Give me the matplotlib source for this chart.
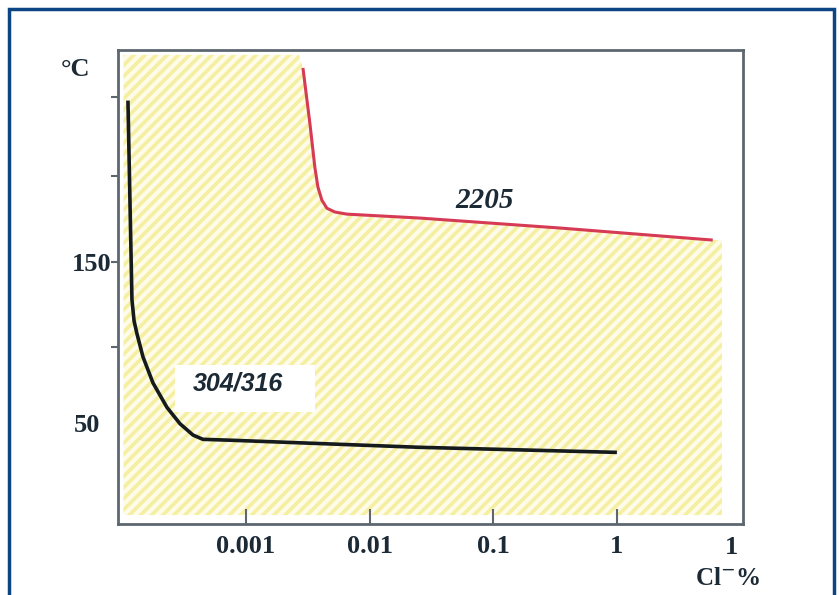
import matplotlib.pyplot as plt
import matplotlib.patches as mpatches
import numpy as np

# 304/316 curve (Cl- %, degC)
cl_304 = [1.111e-4, 1.153e-4, 1.197e-4, 1.245e-4, 1.315e-4, 1.469e-4, 1.770e-4,
          2.296e-4, 2.924e-4, 3.733e-4, 4.487e-4, 7.85e-4, 2.55e-2, 1.0]
t_304 = [249, 188, 127, 114, 106, 92, 76, 61, 51, 44, 41.4, 40.8, 36.5, 33.4]

# 2205 curve
cl_2205 = [2.89e-3, 3.29e-3, 3.61e-3, 3.82e-3, 4.11e-3, 4.52e-3, 5.24e-3, 6.56e-3,
           2.55e-2, 0.345, 5.96]
t_2205 = [269, 235, 208, 196, 188, 183, 180.7, 179.4, 177, 170.9, 163.5]

yticks = [98, 150, 203, 251]
ytick_labels = ['', '150', '', '']
xticks = [1e-3, 1e-2, 1e-1, 1]
xtick_labels = ['0.001', '0.01', '0.1', '1']

plt.rcParams['hatch.color'] = '#f5efa2'
plt.rcParams['hatch.linewidth'] = 2.6

fig = plt.figure(figsize=(8.39, 5.95), dpi=100)
fig.patch.set_facecolor('white')
# dark blue frame round the figure
fig.patches.append(mpatches.Rectangle((0.011, -0.05), 0.983, 1.035, transform=fig.transFigure,
                                      fill=False, edgecolor='#0d4584', linewidth=2.5))

ax = fig.add_axes([0.1406, 0.1193, 0.7450, 0.7967])
xmin, xmax = 10 ** -4.035, 10 ** 1.02
ymin, ymax = -10.5, 280
ax.set_xscale('log')
ax.set_xlim(xmin, xmax)
ax.set_ylim(ymin, ymax)

# hatched yellow region below the 2205 curve
x_left = 10 ** -3.99
x_right = 10 ** 0.85
y_bot = -5
y_top = 277
red_x = np.array(cl_2205)
red_y = np.array(t_2205)
poly_x = [x_left, red_x[0] * 0.93] + list(red_x) + [x_right, x_right, x_left]
poly_y = [y_top, y_top] + list(red_y) + [red_y[-1], y_bot, y_bot]
ax.fill(poly_x, poly_y, facecolor='#fefbe8', edgecolor='#f5efa2', linewidth=0,
        hatch='///', zorder=1)

# white box behind the 304/316 label
bx = [10 ** -3.575, 10 ** -2.443, 10 ** -2.443, 10 ** -3.575]
by = [58, 58, 86.8, 86.8]
ax.fill(bx, by, facecolor='white', edgecolor='none', zorder=2)

ax.plot(cl_304, t_304, color='#151a1c', lw=2.6, solid_capstyle='butt', zorder=3)
ax.plot(cl_2205, t_2205, color='#d63a55', lw=2.2, solid_capstyle='butt', zorder=3)

ax.text(10 ** -3.065, 75.5, '304/316', fontsize=18, fontweight='bold', style='italic',
        family='Liberation Sans', color='#1c2a36', ha='center', va='center', zorder=4)
ax.text(10 ** -1.07, 188, '2205', fontsize=21, fontweight='bold', style='italic',
        family='Liberation Serif', color='#1c2a36', ha='center', va='center', zorder=4)

for s in ax.spines.values():
    s.set_color('#5d6770')
    s.set_linewidth(2)

ax.set_yticks(yticks)
ax.set_yticklabels(ytick_labels)
ax.yaxis.set_minor_locator(plt.NullLocator())
ax.tick_params(axis='y', direction='out', length=5, width=1.5, color='#5d6770', pad=0,
               labelsize=19)
ax.set_xticks(xticks)
ax.set_xticklabels(xtick_labels)
ax.xaxis.set_minor_locator(plt.NullLocator())
ax.tick_params(axis='x', direction='in', length=11, width=1.5, color='#5d6770', pad=8,
               labelsize=19)
for lab in ax.get_xticklabels() + ax.get_yticklabels():
    lab.set_family('Liberation Serif')
    lab.set_fontweight('bold')
    lab.set_color('#1c2a36')

tf = dict(family='Liberation Serif', fontweight='bold', color='#1c2a36', fontsize=19)
ax.text(-0.029, 50, '50', transform=ax.get_yaxis_transform(), ha='right', va='center', **tf)
ax.text(-0.045, 268, '°C', transform=ax.get_yaxis_transform(), ha='right', va='center', **tf)
ax.text(0.982, -0.05, '1', transform=ax.transAxes, ha='center', va='center', **tf)
ax.text(0.975, -0.115, 'Cl$^{-}$%', transform=ax.transAxes, ha='center', va='center',
        family='Liberation Serif', fontweight='bold', color='#1c2a36', fontsize=18)

fig.savefig('out.png', dpi=100)
